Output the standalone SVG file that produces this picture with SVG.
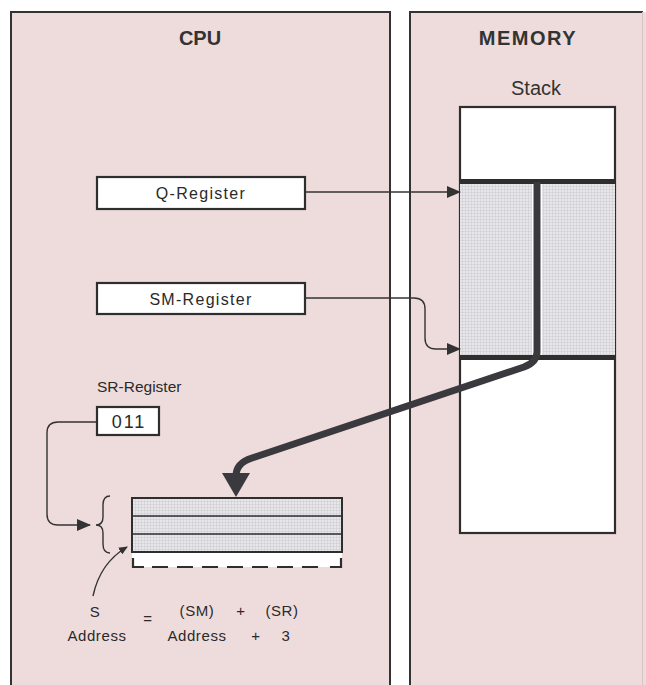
<svg xmlns="http://www.w3.org/2000/svg" width="646" height="685" viewBox="0 0 646 685">
<style>
.panel{fill:#eedcdc;stroke:#333;stroke-width:2}
.box{fill:#fff;stroke:#2e2e2e;stroke-width:2.2}
.grid{fill:url(#grid);stroke:#2e2e2e;stroke-width:2}
.title{font-family:"Liberation Sans Narrow","Liberation Sans",Arial,sans-serif;font-weight:bold;font-size:20px;fill:#333;text-anchor:middle}
.lbl{font-family:"Liberation Sans",Arial,sans-serif;font-size:16px;fill:#2a2a2a;text-anchor:middle;letter-spacing:1.3px}
.eq{font-family:"Liberation Sans",Arial,sans-serif;font-size:15px;fill:#2a2a2a;text-anchor:middle;letter-spacing:0.6px}
.thin{fill:none;stroke:#333;stroke-width:1.4}
.thick{fill:none;stroke:#3a3a3e;stroke-width:7;stroke-linejoin:round}
</style>
<defs>
<pattern id="grid" width="3" height="3" patternUnits="userSpaceOnUse">
<rect width="3" height="3" fill="#e7e7ea"/>
<path d="M0 0.5H3M0.5 0V3" stroke="#cdcdd2" stroke-width="0.6"/>
</pattern>
<marker id="ah" markerWidth="14" markerHeight="12" refX="13" refY="6" orient="auto" markerUnits="userSpaceOnUse">
<path d="M0 0L14 6L0 12Z" fill="#333"/>
</marker>
<marker id="ahs" markerWidth="9" markerHeight="8" refX="8" refY="4" orient="auto" markerUnits="userSpaceOnUse">
<path d="M0 0L9 4L0 8Z" fill="#333"/>
</marker>
</defs>
<rect width="646" height="685" fill="#fff"/>
<g id="cpu">
<rect class="panel" x="11" y="12" width="379" height="690"/>
<text class="title" x="200" y="45">CPU</text>
</g>
<g id="memory">
<rect x="410" y="12" width="236" height="690" fill="#eedcdc"/>
<path d="M410 702V12H643" fill="none" stroke="#333" stroke-width="2"/>
<path d="M642.5 12V685" stroke="#d8c4c4" stroke-width="1"/>
<text class="title" x="528" y="45" style="letter-spacing:1.5px">MEMORY</text>
</g>
<g id="stack">
<text class="title" x="536" y="95" style="font-weight:normal;font-size:20px">Stack</text>
<rect class="box" x="460" y="107" width="155" height="426"/>
<rect x="460" y="182" width="155" height="176" fill="url(#grid)"/>
<path d="M533 183V356M541 183V356" stroke="#fff" stroke-width="2"/>
<path d="M459 181.5H616M459 357.5H616" stroke="#2e2e2e" stroke-width="5"/>
</g>
<g id="q-register">
<rect class="box" x="97" y="177" width="208" height="32"/>
<text class="lbl" x="201" y="199">Q-Register</text>
</g>
<g id="sm-register">
<rect class="box" x="97" y="283" width="208" height="31"/>
<text class="lbl" x="201" y="305">SM-Register</text>
</g>
<g id="sr-register">
<text x="97" y="392" font-family="Liberation Sans, Arial, sans-serif" font-size="15.5" fill="#2a2a2a">SR-Register</text>
<rect class="box" x="97" y="407" width="62" height="28"/>
<text class="lbl" x="129" y="428" style="font-size:18px;letter-spacing:2px">011</text>
</g>
<g id="s-block">
<rect x="132" y="552" width="210" height="15" fill="#fff"/>
<rect class="grid" x="132" y="498" width="210" height="54"/>
<path d="M132 516H342M132 534H342" stroke="#2e2e2e" stroke-width="1.6"/>
<path d="M133 558V567H144" fill="none" stroke="#2e2e2e" stroke-width="2.2"/>
<path d="M341 558V567H330" fill="none" stroke="#2e2e2e" stroke-width="2.2"/>
<path d="M152 567H324" fill="none" stroke="#2e2e2e" stroke-width="2.2" stroke-dasharray="16 9"/>
<path class="thin" d="M110 496Q103 496 103 505V517Q103 525 96 525Q103 525 103 533V544Q103 553 110 553"/>
</g>
<g id="equation">
<text class="eq" x="95" y="617">S</text>
<text class="eq" x="97" y="641">Address</text>
<text class="eq" x="148" y="624">=</text>
<text class="eq" x="197" y="616">(SM)</text>
<text class="eq" x="241" y="616">+</text>
<text class="eq" x="282" y="616">(SR)</text>
<text class="eq" x="197" y="641">Address</text>
<text class="eq" x="256" y="641">+</text>
<text class="eq" x="286" y="641">3</text>
</g>
<g id="connectors">
<path class="thin" d="M305 192H460" marker-end="url(#ah)"/>
<path class="thin" d="M305 298H414Q425 298 425 309V338Q425 349 436 349H460" marker-end="url(#ah)"/>
<path class="thin" d="M97 422H58Q47 422 47 433V514Q47 525 58 525H90" marker-end="url(#ah)"/>
<path class="thin" d="M93 596Q100 563 127 547" marker-end="url(#ahs)"/>
<path class="thick" d="M537 182V352Q537 362 524 367L252 458Q236 463 236 476"/>
<path d="M222 473L250 473L236 497Z" fill="#3a3a3e"/>
</g>
</svg>
